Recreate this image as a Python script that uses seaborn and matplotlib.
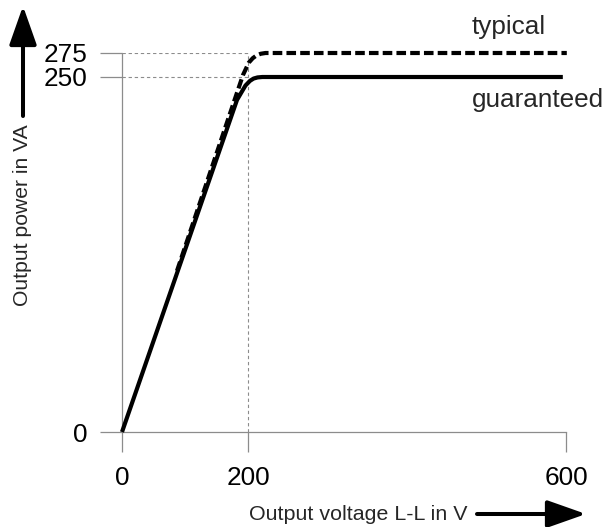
import numpy as np
import pandas as pd
import matplotlib
matplotlib.use("Agg")
import matplotlib.pyplot as plt
import seaborn as sns
from matplotlib.patches import FancyArrowPatch

# ---- data ----
x_ticks = [0, 200, 600]
y_ticks = [0, 250, 275]
volt_guaranteed = [0, 182.5, 190, 196, 202.5, 207, 212, 218, 596]
power_guaranteed = [0, 233.8, 239.5, 244.0, 247.3, 248.9, 249.7, 250, 250]
volt_typical = [87.3, 192, 197, 201, 206, 211, 216, 222, 601]
power_typical = [113.5, 252, 259, 265, 269.6, 272.6, 274.2, 275, 275]
label_typical = "typical"
label_guaranteed = "guaranteed"
xlabel = "Output voltage L-L in V"
ylabel = "Output power in VA"

df_g = pd.DataFrame({"V": volt_guaranteed, "P": power_guaranteed})
df_t = pd.DataFrame({"V": volt_typical, "P": power_typical})

sns.set_style("white")
plt.rcParams["font.family"] = ["Liberation Sans", "DejaVu Sans"]

W, H = 605, 527
fig = plt.figure(figsize=(W / 100, H / 100), dpi=100)
ax = fig.add_axes([122 / W, (H - 432) / H, 444 / W, (432 - 53) / H])

# schematic (piecewise linear) scales
xb, xp = 200.0, 126 / 444
yb, yp = 250.0, 355 / 379

def fx(v):
    v = np.asarray(v, float)
    return np.where(v <= xb, v / xb * xp, xp + (v - xb) / (600 - xb) * (1 - xp))

def ix(p):
    p = np.asarray(p, float)
    return np.where(p <= xp, p / xp * xb, xb + (p - xp) / (1 - xp) * (600 - xb))

def fy(v):
    v = np.asarray(v, float)
    return np.where(v <= yb, v / yb * yp, yp + (v - yb) / (275 - yb) * (1 - yp))

def iy(p):
    p = np.asarray(p, float)
    return np.where(p <= yp, p / yp * yb, yb + (p - yp) / (1 - yp) * (275 - yb))

ax.set_xscale("function", functions=(fx, ix))
ax.set_yscale("function", functions=(fy, iy))
ax.set_xlim(0, 600)
ax.set_ylim(0, 275)

grey = "#8c8c8c"
# guide lines
ax.plot([x_ticks[1], x_ticks[1]], [0, y_ticks[2]], color=grey, lw=0.8,
        ls=(0, (3, 2.5)), zorder=1)
for yv in y_ticks[1:]:
    ax.plot([0, x_ticks[1]], [yv, yv], color=grey, lw=0.8, ls=(0, (3, 2.5)), zorder=1)
ax.plot([0, 0], [0, y_ticks[2]], color=grey, lw=0.9, zorder=1, clip_on=False)

sns.lineplot(data=df_g, x="V", y="P", ax=ax, color="black", lw=3.0,
             estimator=None, sort=False, clip_on=False, zorder=3,
             solid_capstyle="butt", solid_joinstyle="round")
sns.lineplot(data=df_t, x="V", y="P", ax=ax, color="black", lw=3.0,
             estimator=None, sort=False, clip_on=False, zorder=3,
             linestyle=(0, (2.3, 1.0)), dash_capstyle="butt")

for s in ["top", "right", "left"]:
    ax.spines[s].set_visible(False)
ax.spines["bottom"].set_color(grey)
ax.spines["bottom"].set_linewidth(0.9)

ax.set_xticks(x_ticks)
ax.set_xticklabels([str(v) for v in x_ticks])
ax.set_yticks(y_ticks)
ax.set_yticklabels([str(v) for v in y_ticks])
ax.minorticks_off()
ax.tick_params(axis="x", length=14.4, width=0.9, color=grey, pad=10,
               labelsize=18.8, labelcolor="black", direction="out", bottom=True)
ax.tick_params(axis="y", length=15.8, width=0.9, color=grey, pad=9,
               labelsize=18.8, labelcolor="black", direction="out", left=True)
ax.set_xlabel("")
ax.set_ylabel("")
ax.set_facecolor("white")

# annotations
fig.text(472 / W, 1 - 27 / H, label_typical, fontsize=18.8, va="center", ha="left")
fig.text(472 / W, 1 - 100 / H, label_guaranteed, fontsize=18.8, va="center", ha="left")

fig.text(23 / W, 1 - 215 / H, ylabel, fontsize=15.2, rotation=90,
         va="center", ha="center")
fig.text(358 / W, 1 - 514 / H, xlabel, fontsize=15.4, va="center", ha="center")

arr_style = "-|>,head_length=1.7,head_width=0.6"
fig.add_artist(FancyArrowPatch((23 / W, 1 - 116 / H), (23 / W, 1 - 6 / H),
                               transform=fig.transFigure, arrowstyle=arr_style,
                               mutation_scale=14, lw=2.9, color="black",
                               shrinkA=0, shrinkB=0))
fig.add_artist(FancyArrowPatch((477 / W, 1 - 514 / H), (586 / W, 1 - 514 / H),
                               transform=fig.transFigure, arrowstyle=arr_style,
                               mutation_scale=14, lw=2.9, color="black",
                               shrinkA=0, shrinkB=0))

fig.savefig("out.png", dpi=100, facecolor="white")
